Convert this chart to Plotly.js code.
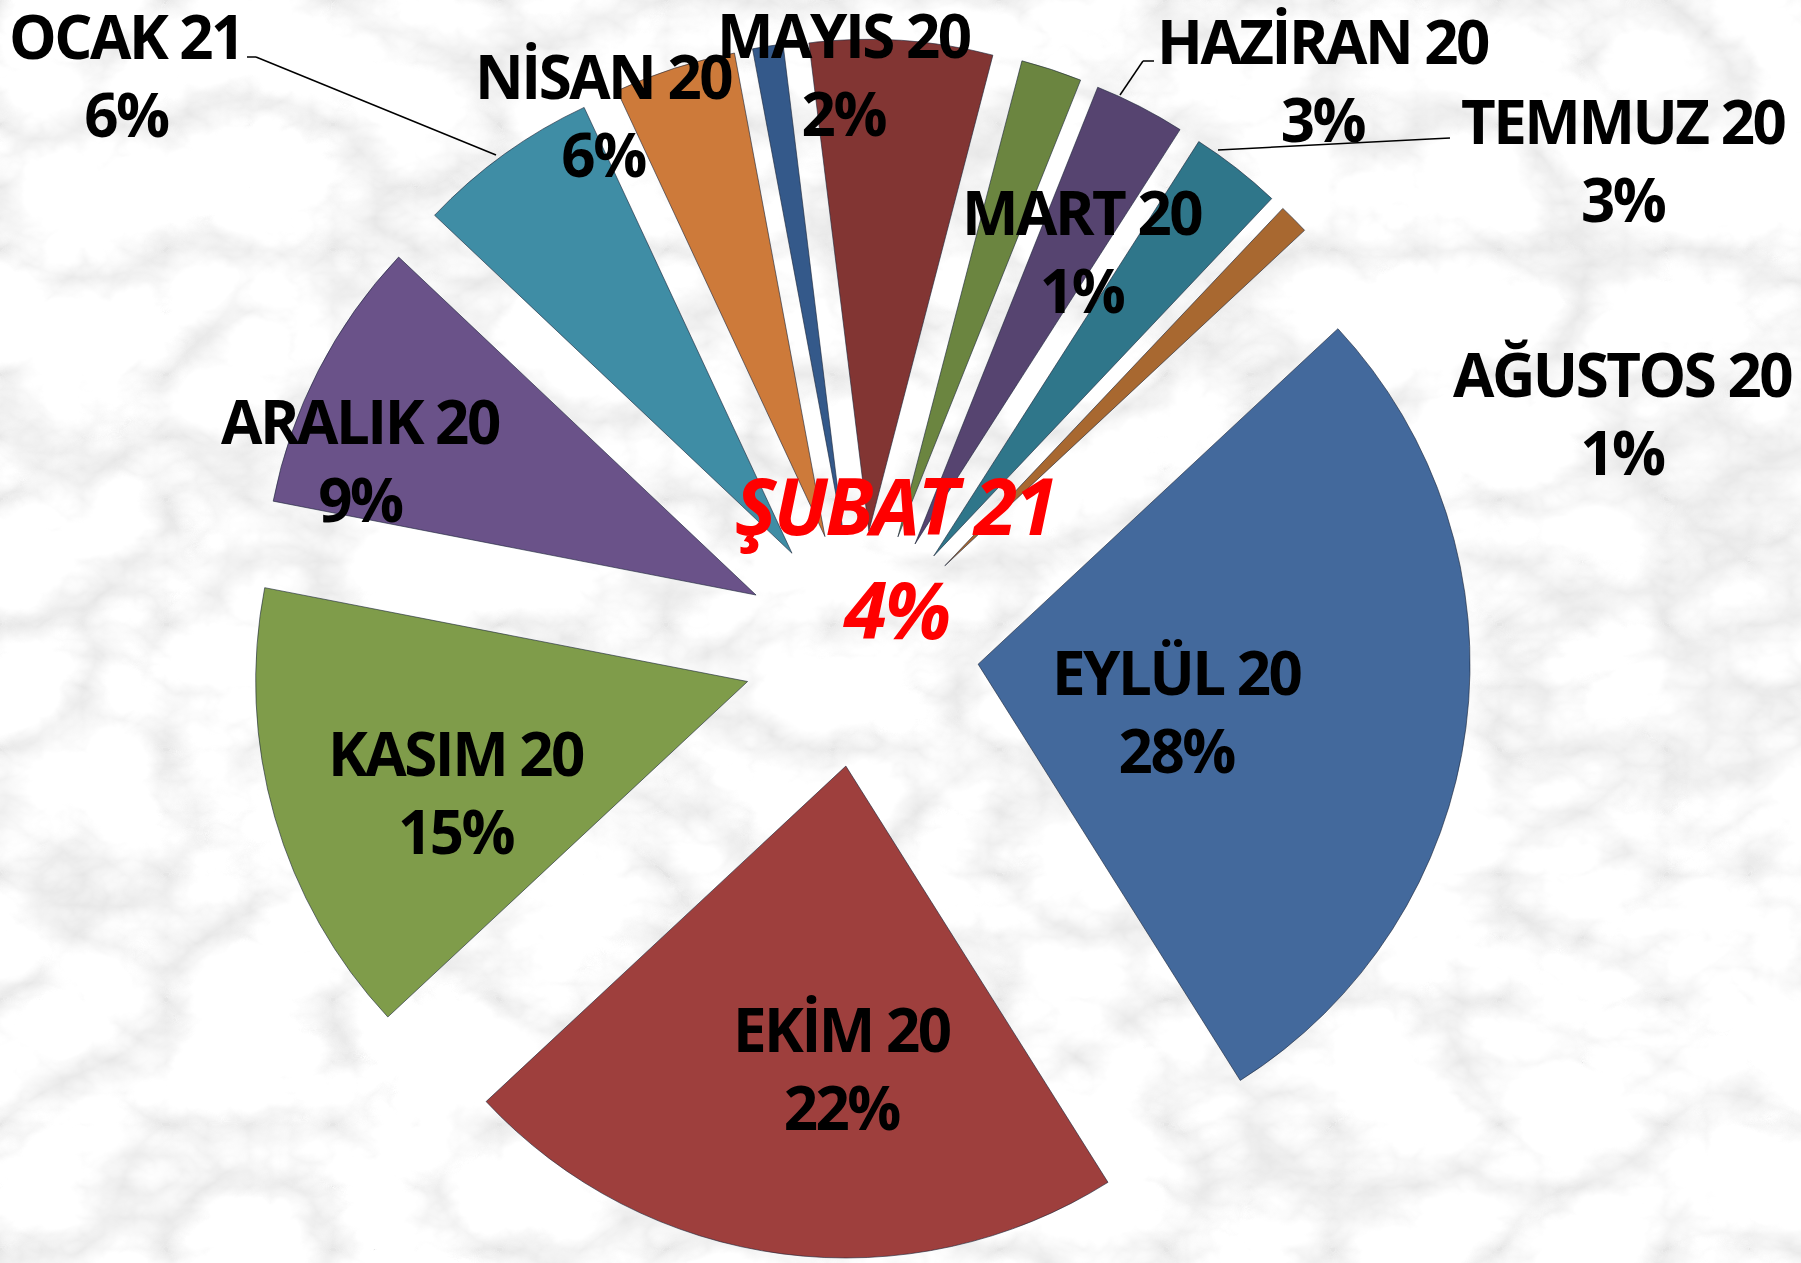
<!DOCTYPE html>
<html>
<head>
<meta charset="utf-8">
<script src="https://cdn.plot.ly/plotly-3.0.1.min.js"></script>
<style>
html, body { margin: 0; padding: 0; width: 1801px; height: 1263px; overflow: hidden; background: #e9e9e9; }
#chart { width: 1801px; height: 1263px; }
svg text { letter-spacing: -2.5px; }
</style>
</head>
<body>
<div id="chart"></div>
<script>
// ---- data ----
const months = ['EYLÜL 20', 'EKİM 20', 'KASIM 20', 'ARALIK 20', 'OCAK 21', 'ŞUBAT 21',
                'MART 20', 'NİSAN 20', 'MAYIS 20', 'HAZİRAN 20', 'TEMMUZ 20', 'AĞUSTOS 20'];
const values = [28, 22, 15, 9, 6, 4, 1, 6, 2, 3, 3, 1];
const sliceColors = ['#43699C', '#9E3F3D', '#7F9C4A', '#6A5289', '#3F8DA5', '#CD7A3A',
                     '#34598A', '#823533', '#6B8540', '#564470', '#2F768A', '#A86830'];
const highlight = 'ŞUBAT 21';

// ---- marble-like background (generated locally) ----
const svg = "<svg xmlns='http://www.w3.org/2000/svg' width='1801' height='1263'>" +
  "<filter id='m'><feTurbulence type='turbulence' baseFrequency='0.006 0.008' numOctaves='5' seed='11'/>" +
  "<feColorMatrix type='matrix' values='0.55 0 0 0 0.79  0.55 0 0 0 0.79  0.55 0 0 0 0.79  0 0 0 0 1'/></filter>" +
  "<rect width='100%' height='100%' filter='url(#m)'/></svg>";
document.body.style.backgroundImage = 'url("data:image/svg+xml,' + encodeURIComponent(svg) + '")';

const W = 1801, H = 1263;
const total = values.reduce((a, b) => a + b, 0);
const pct = v => Math.round(v / total * 100) + '%';

// label placement (pixel centres of the two-line label blocks)
const labelPos = {
  'OCAK 21': [126, 75], 'NİSAN 20': [603, 115], 'MAYIS 20': [844, 74],
  'HAZİRAN 20': [1323, 80], 'TEMMUZ 20': [1623, 160], 'MART 20': [1082, 251],
  'AĞUSTOS 20': [1622, 413], 'ARALIK 20': [360, 460], 'KASIM 20': [456, 792],
  'EKİM 20': [842, 1068], 'EYLÜL 20': [1177, 711]
};
const hlPos = [[895, 505], [896, 609]];

const fam = 'Open Sans, Noto Sans, sans-serif';
const labelFont = { family: fam, size: 60, color: '#000000', weight: 'bold' };
const hlFont = { family: fam, size: 78, color: '#FF0000', weight: 'bold', style: 'italic' };

const annotations = [];
months.forEach((m, i) => {
  if (m === highlight) {
    annotations.push({ text: m, x: hlPos[0][0] / W, y: 1 - hlPos[0][1] / H, xref: 'paper', yref: 'paper',
      xanchor: 'center', yanchor: 'middle', showarrow: false, font: hlFont });
    annotations.push({ text: pct(values[i]), x: hlPos[1][0] / W, y: 1 - hlPos[1][1] / H, xref: 'paper', yref: 'paper',
      xanchor: 'center', yanchor: 'middle', showarrow: false, font: hlFont });
  } else {
    const p = labelPos[m];
    annotations.push({ text: m + '<br>' + pct(values[i]), x: p[0] / W, y: 1 - p[1] / H, xref: 'paper', yref: 'paper',
      xanchor: 'center', yanchor: 'middle', showarrow: false, align: 'center', font: labelFont });
  }
});

// leader lines (pixel polylines)
const leaders = [
  [[247, 57], [256, 57], [496, 155]],
  [[1154, 61], [1143, 61], [1120, 95]],
  [[1450, 138], [1430, 139], [1218, 150]]
];
const shapes = [];
leaders.forEach(pl => {
  for (let k = 0; k < pl.length - 1; k++) {
    shapes.push({ type: 'line', xref: 'paper', yref: 'paper',
      x0: pl[k][0] / W, y0: 1 - pl[k][1] / H, x1: pl[k + 1][0] / W, y1: 1 - pl[k + 1][1] / H,
      line: { color: '#000000', width: 1.5 } });
  }
});

const trace = {
  type: 'pie',
  labels: months,
  values: values,
  sort: false,
  direction: 'clockwise',
  rotation: 47,
  pull: 0.24,
  marker: { colors: sliceColors, line: { color: 'rgba(25,35,55,0.6)', width: 1 } },
  textinfo: 'none',
  hoverinfo: 'label+percent',
  showlegend: false,
  domain: { x: [0.1394, 0.8168], y: [0.0032, 0.9691] }
};

const layout = {
  width: W, height: H,
  margin: { l: 0, r: 0, t: 0, b: 0 },
  paper_bgcolor: 'rgba(0,0,0,0)',
  plot_bgcolor: 'rgba(0,0,0,0)',
  showlegend: false,
  annotations: annotations,
  shapes: shapes
};

Plotly.newPlot('chart', [trace], layout, { displayModeBar: false, staticPlot: true });
</script>
</body>
</html>
